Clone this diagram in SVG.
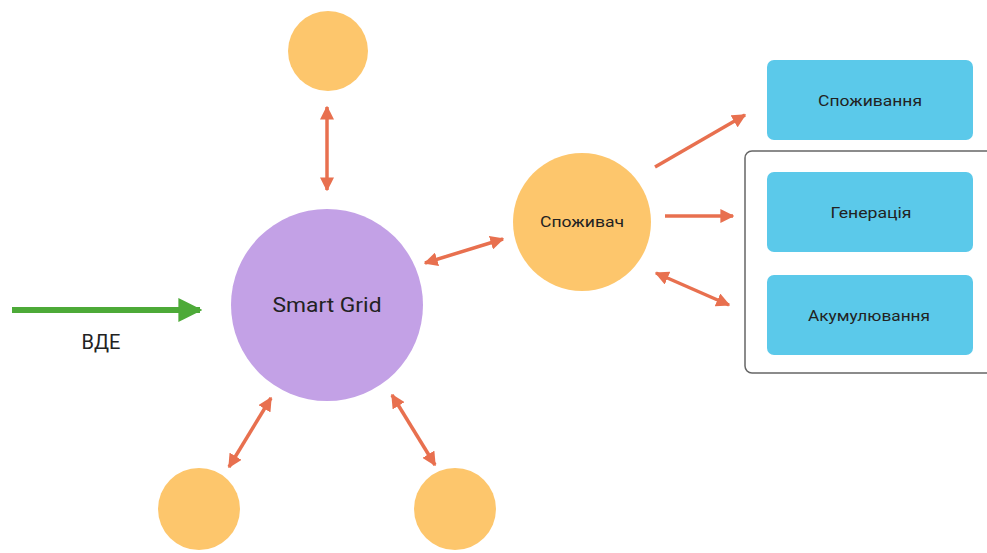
<svg xmlns="http://www.w3.org/2000/svg" width="987" height="553" viewBox="0 0 987 553">
<style>
.sat{fill:#FDC66C}
.box{fill:#5BC9EA}
.lbl{font-family:Roboto,"Liberation Sans",sans-serif;fill:#222;text-anchor:middle;dominant-baseline:central}
.con{stroke:#E8704F;stroke-width:3.5;fill:none;marker-end:url(#ah);marker-start:url(#ahs)}
.one{stroke:#E8704F;stroke-width:3.5;fill:none;marker-end:url(#ah)}
</style>
<defs>
<marker id="ah" viewBox="0 0 10 10" refX="9" refY="5" markerWidth="4" markerHeight="4" orient="auto" markerUnits="strokeWidth">
<path d="M0,0 L10,5 L0,10 z" fill="#E8704F"/>
</marker>
<marker id="ahs" viewBox="0 0 10 10" refX="9" refY="5" markerWidth="4" markerHeight="4" orient="auto-start-reverse" markerUnits="strokeWidth">
<path d="M0,0 L10,5 L0,10 z" fill="#E8704F"/>
</marker>
<marker id="gh" viewBox="0 0 10 10" refX="9" refY="5" markerWidth="4" markerHeight="4" orient="auto" markerUnits="strokeWidth">
<path d="M0,0 L10,5 L0,10 z" fill="#4DAA38"/>
</marker>
</defs>
<rect width="987" height="553" fill="#ffffff"/>
<g id="container">
<rect x="745" y="151" width="250" height="222" rx="7" fill="none" stroke="#666" stroke-width="1.5"/>
</g>
<g id="smartgrid">
<circle cx="327" cy="305" r="96" fill="#C3A1E6"/>
<text class="lbl" x="327" y="305" font-size="20" textLength="109" lengthAdjust="spacingAndGlyphs">Smart Grid</text>
</g>
<g id="top"><circle class="sat" cx="328" cy="51" r="40"/></g>
<g id="bl"><circle class="sat" cx="199" cy="509" r="41"/></g>
<g id="br"><circle class="sat" cx="455" cy="509" r="41"/></g>
<g id="spozhyvach">
<circle class="sat" cx="582" cy="222" r="69"/>
<text class="lbl" x="582" y="222" font-size="15" textLength="84" lengthAdjust="spacingAndGlyphs">Споживач</text>
</g>
<g id="spozhyvannia">
<rect class="box" x="767" y="60" width="206" height="80" rx="7"/>
<text class="lbl" x="870" y="101" font-size="15" textLength="104" lengthAdjust="spacingAndGlyphs">Споживання</text>
</g>
<g id="heneratsiia">
<rect class="box" x="767" y="172" width="206" height="80" rx="7"/>
<text class="lbl" x="871" y="213" font-size="15" textLength="81" lengthAdjust="spacingAndGlyphs">Генерація</text>
</g>
<g id="akumuliuvannia">
<rect class="box" x="767" y="275" width="206" height="80" rx="7"/>
<text class="lbl" x="869" y="316" font-size="15" textLength="122" lengthAdjust="spacingAndGlyphs">Акумулювання</text>
</g>
<g id="vde">
<text class="lbl" x="101" y="342" font-size="20">ВДЕ</text>
</g>
<g id="connectors">
<line x1="12" y1="310" x2="200" y2="310" stroke="#4DAA38" stroke-width="6" marker-end="url(#gh)"/>
<line class="con" x1="327" y1="107" x2="327" y2="190"/>
<line class="con" x1="271" y1="398" x2="229" y2="467"/>
<line class="con" x1="392" y1="395" x2="435" y2="465"/>
<line class="con" x1="425" y1="263" x2="503" y2="239"/>
<line class="one" x1="655" y1="167" x2="745" y2="115"/>
<line class="one" x1="665" y1="216" x2="733" y2="216"/>
<line class="con" x1="656" y1="273" x2="729" y2="305"/>
</g>
</svg>
